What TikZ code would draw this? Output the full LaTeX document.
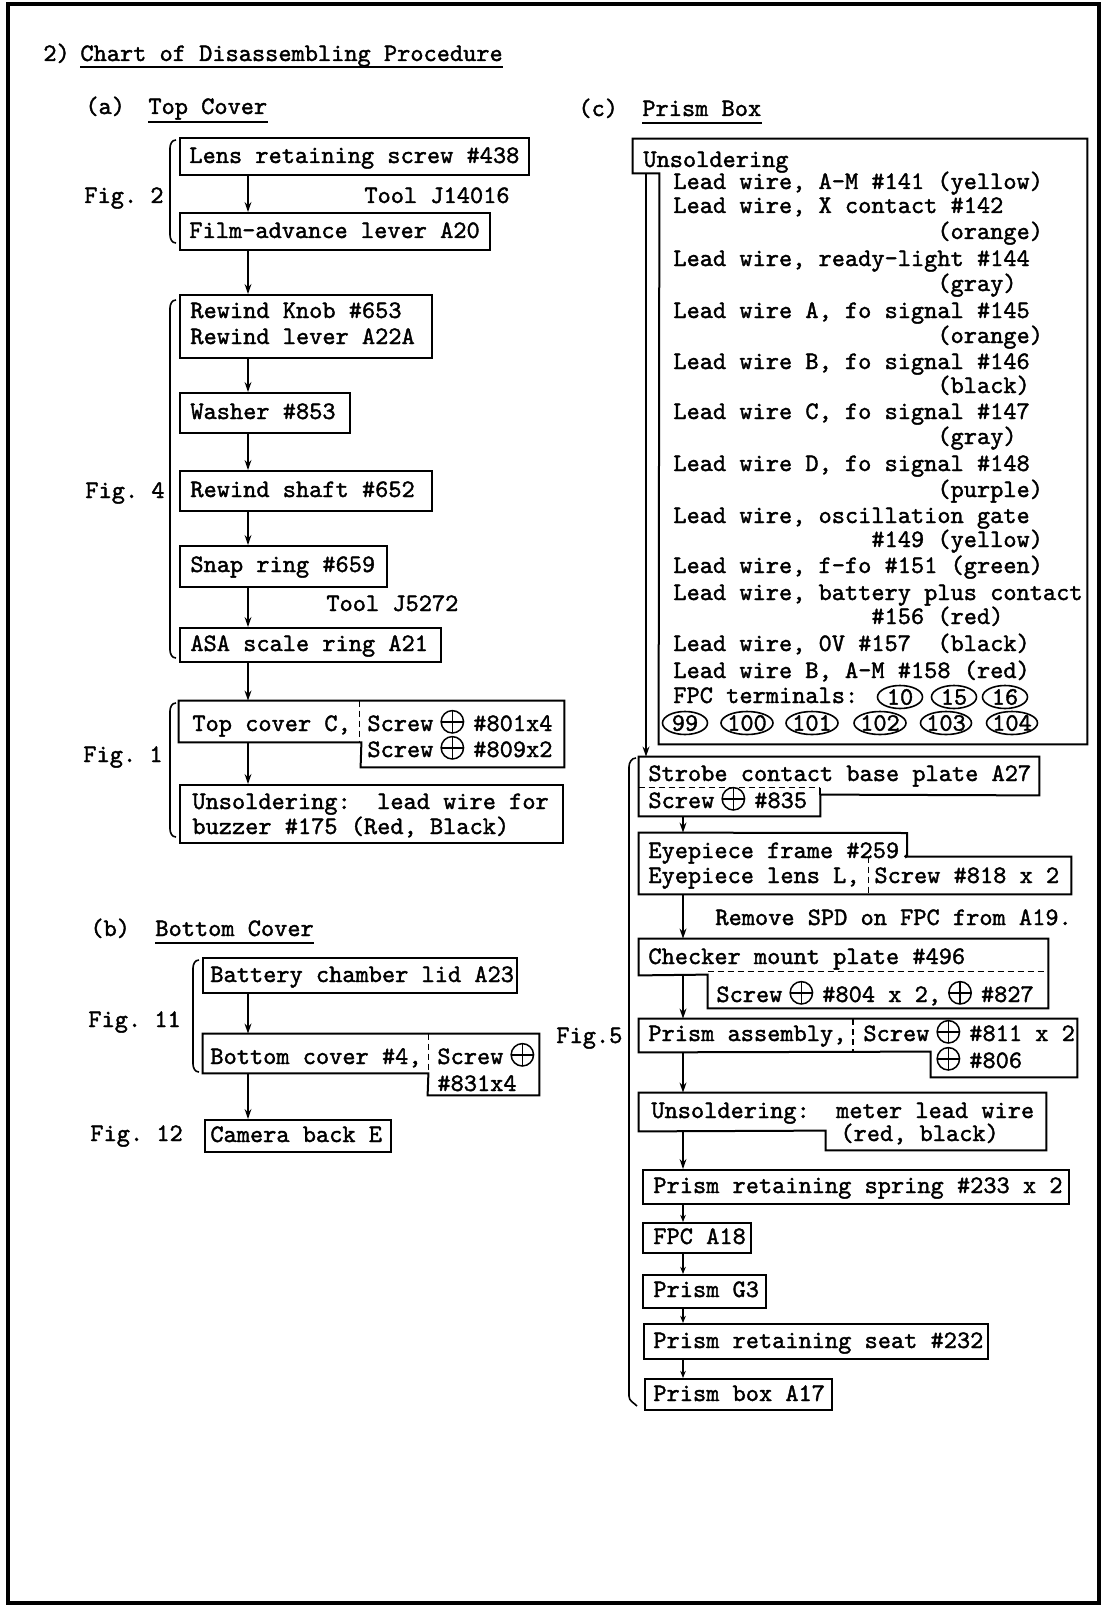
\documentclass[tikz,border=0pt]{standalone}
\usepackage{fontspec}
\usetikzlibrary{fit,arrows.meta,shapes.geometric}
\newfontfamily\tw{lmmono10-regular.otf}[FakeBold=1.5]
\newdimen\ppx \ppx=0.5pt
\newcommand\twf{\tw\fontsize{12.57pt}{13pt}\selectfont\frenchspacing}
\newcommand\opl{\kern7\ppx\tikz[baseline=0pt,x=1pt,y=1pt,line width=0.75pt]{\draw (0,4.6) circle (5.6pt); \draw (-5.6,4.6)--(5.6,4.6) (0,-1)--(0,10.2);}\kern9\ppx}
\tikzset{
  bx/.style={draw, line width=1pt, inner sep=0pt, fit={#1}},
  prt/.style={inner sep=0pt, fit={#1}},
  tx/.style={anchor=base west, inner sep=0pt, font=\twf},
  ar/.style={line width=0.8pt, -{Stealth[length=5pt,width=3.4pt]}},
  sar/.style={line width=0.8pt, -{Stealth[length=3.6pt,width=2.8pt]}},
  ol/.style={line width=1pt, line join=miter},
  dsh/.style={line width=0.7pt, dash pattern=on 3pt off 2pt},
  br/.style={line width=0.8pt},
  ell/.style={draw, ellipse, line width=0.8pt, inner xsep=-2\ppx, inner ysep=0pt, minimum height=23\ppx, minimum width={#1}, font=\twf},
  ul/.style={line width=1pt},
}
\begin{document}
\begin{tikzpicture}[x=0.5pt,y=-0.5pt]
\useasboundingbox (0,0) rectangle (1110,1605);
\draw[line width=2pt] (8,4) rectangle (1099,1603);

% ---------- titles
\node[tx] (n2) at (43,61) {2)};
\node[tx] (ttl) at (80,61) {Chart of Disassembling Procedure};
\draw[ul] ([yshift=-3pt]ttl.base west) -- ([yshift=-3pt]ttl.base east);

\node[tx] (la) at (85,114) {(a)};
\node[tx] (ta) at (148,114) {Top Cover};
\draw[ul] ([yshift=-4pt]ta.base west) -- ([yshift=-4pt]ta.base east);

% ---------- (a) top cover
\coordinate (LC) at (248,0);
\node[bx={(180,138) (529,175)}] (lens) {};
\node[tx] (lensT) at (189,163) {Lens retaining screw \#438};
\node[tx] (tool1) at (364,203) {Tool J14016};
\node[bx={(180,213) (490,250)}] (film) {};
\node[tx] (filmT) at (189,238) {Film-advance lever A20};
\draw[ar] (lens.south -| LC) -- (film.north -| LC);
\node[tx] (fig2) at (84,203) {Fig. 2};
\draw[br] (176,140) to[out=180,in=90] (170,148) -- (170,235) to[out=-90,in=180] (176,243);

\node[bx={(180,295) (432,358)}] (rew) {};
\node[tx] (rewT1) at (190,318) {Rewind Knob \#653};
\node[tx] (rewT2) at (190,344) {Rewind lever A22A};
\draw[ar] (film.south -| LC) -- (rew.north -| LC);

\node[bx={(180,393) (350,433)}] (wash) {};
\node[tx] (washT) at (190,419) {Washer \#853};
\draw[ar] (rew.south -| LC) -- (wash.north -| LC);

\node[bx={(180,471) (432,511)}] (shaft) {};
\node[tx] (shaftT) at (190,497) {Rewind shaft \#652};
\draw[ar] (wash.south -| LC) -- (shaft.north -| LC);

\node[bx={(180,546) (387,587)}] (snap) {};
\node[tx] (snapT) at (190,572) {Snap ring \#659};
\draw[ar] (shaft.south -| LC) -- (snap.north -| LC);

\node[tx] (tool2) at (326,611) {Tool J5272};
\node[bx={(180,628) (441,662)}] (asa) {};
\node[tx] (asaT) at (190,651) {ASA scale ring A21};
\draw[ar] (snap.south -| LC) -- (asa.north -| LC);

\node[tx] (fig4) at (85,498) {Fig. 4};
\draw[br] (176,300) to[out=180,in=90] (170,308) -- (170,650) to[out=-90,in=180] (176,658);

\node[prt={(179,701) (361,742)}] (tcA) {};
\node[prt={(361,701) (564,767)}] (tcB) {};
\draw[ol] (tcA.north west) -- (tcB.north east) -- (tcB.south east) -- (tcB.south west) -- (tcA.south east) -- (tcA.south west) -- cycle;
\draw[dsh] ([xshift=-1pt]tcA.north east) -- ([xshift=-1pt]tcA.south east);
\node[tx] (tcT) at (192,731) {Top cover C,};
\node[tx] (tcS1) at (367,731) {Screw\opl\#801x4};
\node[tx] (tcS2) at (367,757) {Screw\opl\#809x2};
\draw[ar] (asa.south -| LC) -- (tcA.north -| LC);

\node[bx={(180,785) (563,843)}] (uns1) {};
\node[tx] (uns1T1) at (192,809) {Unsoldering:\ \ lead wire for};
\node[tx] (uns1T2) at (192,834) {buzzer \#175 (Red, Black)};
\draw[ar] (tcA.south -| LC) -- (uns1.north -| LC);

\node[tx] (fig1) at (83,762) {Fig. 1};
\draw[br] (176,703) to[out=180,in=90] (170,711) -- (170,829) to[out=-90,in=180] (176,837);

% ---------- (b) bottom cover
\node[tx] (lb) at (90,936) {(b)};
\node[tx] (tb) at (155,936) {Bottom Cover};
\draw[ul] ([yshift=-3.5pt]tb.base west) -- ([yshift=-3.5pt]tb.base east);

\node[bx={(203,958) (517,993)}] (batt) {};
\node[tx] (battT) at (210,982) {Battery chamber lid A23};

\node[prt={(203,1034) (428,1073)}] (bcA) {};
\node[prt={(428,1034) (539,1095)}] (bcB) {};
\draw[ol] (bcA.north west) -- (bcB.north east) -- (bcB.south east) -- (bcB.south west) -- (bcA.south east) -- (bcA.south west) -- cycle;
\draw[dsh] (bcA.north east) -- (bcA.south east);
\node[tx] (bcT) at (210,1064) {Bottom cover \#4,};
\node[tx] (bcS1) at (437,1064) {Screw\opl};
\node[tx] (bcS2) at (437,1091) {\#831x4};
\draw[ar] (batt.south -| LC) -- (bcA.north -| LC);

\node[bx={(205,1120) (391,1152)}] (cam) {};
\node[tx] (camT) at (210,1142) {Camera back E};
\draw[ar] (bcA.south -| LC) -- (cam.north -| LC);

\node[tx] (fig11) at (88,1027) {Fig. 11};
\node[tx] (fig12) at (90,1141) {Fig. 12};
\draw[br] (199,960) to[out=180,in=90] (193,968) -- (193,1064) to[out=-90,in=180] (199,1072);

% ---------- (c) prism box
\node[tx] (lc) at (578,116) {(c)};
\node[tx] (tcc) at (642,116) {Prism Box};
\draw[ul] ([yshift=-3.5pt]tcc.base west) -- ([yshift=-3.5pt]tcc.base east);

\node[prt={(633,139) (659,173)}] (usA) {};
\node[prt={(659,139) (1087,744)}] (usB) {};
\draw[ol] (usA.north west) -- (usB.north east) -- (usB.south east) -- (usB.south west) -- (usA.south east) -- (usA.south west) -- cycle;
\node[tx] (usT0) at (643,167) {Unsoldering};
\node[tx] (usT1) at (673,189) {Lead wire, A-M \#141 (yellow)};
\node[tx] (usT2) at (673,213) {Lead wire, X contact \#142};
\node[tx] (usT2b) at (937,239) {(orange)};
\node[tx] (usT3) at (673,266) {Lead wire, ready-light \#144};
\node[tx] (usT3b) at (937,291) {(gray)};
\node[tx] (usT4) at (673,318) {Lead wire A, fo signal \#145};
\node[tx] (usT4b) at (937,343) {(orange)};
\node[tx] (usT5) at (673,369) {Lead wire B, fo signal \#146};
\node[tx] (usT5b) at (937,393) {(black)};
\node[tx] (usT6) at (673,419) {Lead wire C, fo signal \#147};
\node[tx] (usT6b) at (937,444) {(gray)};
\node[tx] (usT7) at (673,471) {Lead wire D, fo signal \#148};
\node[tx] (usT7b) at (937,497) {(purple)};
\node[tx] (usT8) at (673,523) {Lead wire, oscillation gate};
\node[tx] (usT8b) at (871,547) {\#149 (yellow)};
\node[tx] (usT9) at (673,573) {Lead wire, f-fo \#151 (green)};
\node[tx] (usT10) at (673,600) {Lead wire, battery plus contact};
\node[tx] (usT10b) at (871,624) {\#156 (red)};
\node[tx] (usT11) at (673,651) {Lead wire, 0V \#157\ \ (black)};
\node[tx] (usT12) at (673,678) {Lead wire B, A-M \#158 (red)};
\node[tx] (usT13) at (673,703) {FPC terminals:};
\node[ell=45\ppx] (e10) at (900,697) {10};
\node[ell=45\ppx] (e15) at (954,697) {15};
\node[ell=45\ppx] (e16) at (1005,697) {16};
\node[ell=45\ppx] (e99) at (685,723) {99};
\node[ell=52\ppx] (e100) at (747,723) {100};
\node[ell=52\ppx] (e101) at (812,723) {101};
\node[ell=52\ppx] (e102) at (880,723) {102};
\node[ell=51\ppx] (e103) at (946,723) {103};
\node[ell=51\ppx] (e104) at (1012,723) {104};

\coordinate (RC) at (683,0);
\node[prt={(639,757) (1039,795)}] (sA) {};
\node[prt={(639,795) (820,816)}] (sB) {};
\draw[ol] (sA.north west) -- (sA.north east) -- (sA.south east) -- (sB.north east) -- (sB.south east) -- (sB.south west) -- cycle;
\draw[ol] ([yshift=3.5pt]sB.north east) -- (sB.north east);
\draw[dsh] ([yshift=3.5pt]sB.north west) -- ([yshift=3.5pt]sB.north east);
\node[tx] (sT1) at (648,781) {Strobe contact base plate A27};
\node[tx] (sT2) at (648,808) {Screw\opl\#835};
\draw[ar] (usA.south) -- (usA.south |- sA.north);

\node[prt={(639,833) (869,894)}] (eyA) {};
\node[prt={(869,857) (1071,894)}] (eyB) {};
\coordinate (eyC) at (907,833);
\draw[ol] (eyA.north west) -- (eyC) -- (eyC |- eyB.north) -- (eyB.north east) -- (eyB.south east) -- (eyA.south west) -- cycle;
\draw[dsh] (eyB.north west) -- (eyB.south west);
\node[tx] (eyT1) at (648,858) {Eyepiece frame \#259.};
\node[tx] (eyT2) at (648,883) {Eyepiece lens L,};
\node[tx] (eyT3) at (874,883) {Screw \#818 x 2};
\draw[ar] (sB.south -| RC) -- (eyA.north -| RC);

\node[tx] (spd) at (715,925) {Remove SPD on FPC from A19.};

\node[prt={(639,939) (1048,975)}] (chA) {};
\node[prt={(708,975) (1048,1008)}] (chB) {};
\draw[ol] (chA.north west) -- (chA.north east) -- (chB.south east) -- (chB.south west) -- (chB.north west) -- (chA.south west) -- cycle;
\draw[dsh] ([yshift=1.5pt]chB.north west) -- ([yshift=1.5pt]chB.north east);
\node[tx] (chT1) at (648,964) {Checker mount plate \#496};
\node[tx] (chT2) at (716,1002) {Screw\opl\#804 x 2,\opl\#827};
\draw[ar] (eyA.south -| RC) -- (chA.north -| RC);

\node[prt={(639,1019) (1077,1052)}] (paA) {};
\node[prt={(931,1052) (1077,1077)}] (paB) {};
\coordinate (paD) at (853,1019);
\draw[ol] (paA.north west) -- (paA.north east) -- (paB.south east) -- (paB.south west) -- (paB.north west) -- (paA.south west) -- cycle;
\draw[dsh] (paD) -- (paD |- paA.south);
\node[tx] (paT1) at (648,1041) {Prism assembly,};
\node[tx] (paT2) at (863,1041) {Screw\opl\#811 x 2};
\node[tx] (paT3) at (929,1068) {\opl\#806};
\draw[ar] (chA.south -| RC) -- (paA.north -| RC);
\node[tx] (fig5) at (556,1043) {Fig.5};

\node[prt={(639,1093) (1046,1131)}] (umA) {};
\node[prt={(826,1131) (1046,1150)}] (umB) {};
\draw[ol] (umA.north west) -- (umA.north east) -- (umB.south east) -- (umB.south west) -- (umB.north west) -- (umA.south west) -- cycle;
\node[tx] (umT1) at (651,1118) {Unsoldering:\ \ meter lead wire};
\node[tx] (umT2) at (840,1141) {(red, black)};
\draw[ar] (paA.south -| RC) -- (umA.north -| RC);

\node[bx={(643,1170) (1069,1204)}] (spring) {};
\node[tx] (springT) at (653,1193) {Prism retaining spring \#233 x 2};
\draw[ar] (umA.south -| RC) -- (spring.north -| RC);

\node[bx={(643,1223) (751,1253)}] (fpc) {};
\node[tx] (fpcT) at (653,1244) {FPC A18};
\draw[sar] (spring.south -| RC) -- (fpc.north -| RC);

\node[bx={(643,1275) (766,1308)}] (g3) {};
\node[tx] (g3T) at (653,1297) {Prism G3};
\draw[sar] (fpc.south -| RC) -- (g3.north -| RC);

\node[bx={(644,1324) (988,1359)}] (seat) {};
\node[tx] (seatT) at (653,1348) {Prism retaining seat \#232};
\draw[sar] (g3.south -| RC) -- (seat.north -| RC);

\node[bx={(645,1379) (832,1410)}] (pbox) {};
\node[tx] (pboxT) at (653,1401) {Prism box A17};
\draw[sar] (seat.south -| RC) -- (pbox.north -| RC);

\draw[br] (636,758) to[out=180,in=90] (629,767) -- (629,1396) to[out=-90,in=135] (637,1406);
\end{tikzpicture}
\end{document}
